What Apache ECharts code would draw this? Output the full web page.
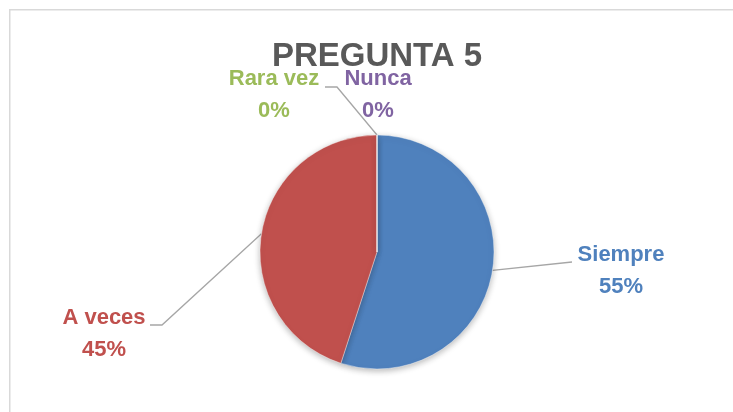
<!DOCTYPE html>
<html>
<head>
<meta charset="utf-8">
<style>html,body{margin:0;padding:0;background:#fff}#c{width:733px;height:412px}</style>
<script src="https://cdn.jsdelivr.net/npm/echarts@6/dist/echarts.min.js"></script>
</head>
<body>
<div id="c"></div>
<script>
// ---- data ----
const titleText = 'PREGUNTA 5';
const categories = ['Siempre', 'A veces', 'Rara vez', 'Nunca'];
const values = [55, 45, 0, 0];
const colors = ['#4F81BD', '#C0504D', '#9BBB59', '#8064A2'];

// ---- label layout (styling) ----
const FONT = '"Liberation Sans", Arial, sans-serif';
const labelPos = [
  { x: 621, y: 239, line: [[572, 262]] },
  { x: 104, y: 302, line: [[162, 325], [150, 325]] },
  { x: 274, y: 63, line: [[337, 87], [325, 87]] },
  { x: 378, y: 63, line: null }
];

const chart = echarts.init(document.getElementById('c'), null, { renderer: 'canvas' });

const data = categories.map((name, i) => ({
  name: name,
  value: values[i],
  itemStyle: { color: colors[i] },
  label: { color: colors[i] },
  labelLine: { show: labelPos[i].line !== null }
}));

chart.setOption({
  backgroundColor: '#ffffff',
  animation: false,
  graphic: [{
    type: 'rect',
    shape: { x: 9.75, y: 9.75, width: 760, height: 440 },
    style: { fill: 'none', stroke: '#d9d9d9', lineWidth: 1.5 },
    silent: true
  }],
  title: {
    text: titleText,
    left: 377,
    top: 40,
    textAlign: 'center',
    padding: 0,
    textStyle: { fontFamily: FONT, fontSize: 33, fontWeight: 'bold', color: '#595959', lineHeight: 33 }
  },
  series: [{
    type: 'pie',
    center: [377, 252],
    radius: 117,
    startAngle: 90,
    clockwise: true,
    avoidLabelOverlap: false,
    itemStyle: {
      borderColor: '#ffffff',
      borderWidth: 0.4,
      shadowBlur: 6,
      shadowOffsetY: 2,
      shadowColor: 'rgba(0,0,0,0.28)'
    },
    label: {
      show: true,
      position: 'outside',
      formatter: '{b}\n{d}%',
      fontFamily: FONT,
      fontSize: 22,
      fontWeight: 'bold',
      lineHeight: 32,
      align: 'center'
    },
    labelLine: {
      show: true,
      lineStyle: { color: '#a6a6a6', width: 1.3 }
    },
    labelLayout: function (params) {
      const p = labelPos[params.dataIndex];
      const out = { x: p.x, y: p.y, align: 'center', verticalAlign: 'top' };
      if (p.line && params.labelLinePoints) {
        out.labelLinePoints = [params.labelLinePoints[0]].concat(p.line);
        if (out.labelLinePoints.length === 2) out.labelLinePoints.push(p.line[0]);
      }
      return out;
    },
    emphasis: { disabled: true },
    data: data
  }]
});
</script>
</body>
</html>
